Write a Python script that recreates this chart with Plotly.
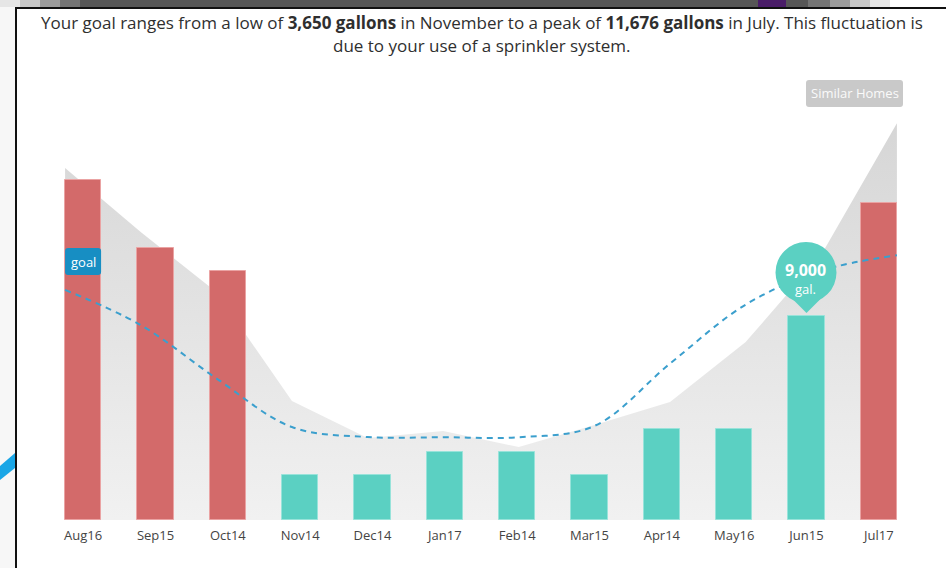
import numpy as np
import plotly.graph_objects as go

# ---- data (gallons per billing period) ----
months = ["Aug16", "Sep15", "Oct14", "Nov14", "Dec14", "Jan17",
          "Feb14", "Mar15", "Apr14", "May16", "Jun15", "Jul17"]
usage = [15000, 12000, 11000, 2000, 2000, 3000, 3000, 2000, 4000, 4000, 9000, 14000]
goal = [10150, 8600, 6250, 4100, 3660, 3650, 3650, 4150, 6900, 9500, 11000, 11676]
similar_homes = [15530, 12700, 10060, 5250, 3620, 3930, 3220, 4190, 5200, 7850, 11700, 17500]
highlight_idx = 10

# ---- layout geometry ----
FIG_W, FIG_H = 946, 568
L, R, T, B = 47, 31, 60, 48
PW, PH = FIG_W - L - R, FIG_H - T - B
PX_PER_1000 = 22.67
y_max = PH / PX_PER_1000 * 1000

RED, RED_EDGE = "#d36a6a", "#eaa3a3"
TEAL, TEAL_EDGE = "#5bd0c2", "#98e3da"
GOAL_BLUE = "#3b9fcd"
FONT = "Open Sans"


def px(xp):
    return (xp - L) / PW


def py(yp):
    return 1 - (yp - T) / PH


def rounded_rect(x0, y0, x1, y1, r):
    return (f"M {x0 + r},{y0} L {x1 - r},{y0} Q {x1},{y0} {x1},{y0 + r} "
            f"L {x1},{y1 - r} Q {x1},{y1} {x1 - r},{y1} L {x0 + r},{y1} "
            f"Q {x0},{y1} {x0},{y1 - r} L {x0},{y0 + r} Q {x0},{y0} {x0 + r},{y0} Z")


x_bars = np.arange(len(months))
x_span = np.linspace(-0.25, len(months) - 0.75, len(months))
over = [u > g for u, g in zip(usage, goal)]
x_range = [-0.5, len(months) - 0.5]

fig = go.Figure()

# similar homes band (base axes, drawn underneath)
fig.add_trace(go.Scatter(
    x=x_span, y=similar_homes, mode="lines", line=dict(width=0),
    fill="tozeroy",
    fillgradient=dict(type="vertical",
                      colorscale=[[0, "#f1f1f1"], [1, "#d6d6d6"]]),
    hoverinfo="skip", showlegend=False, xaxis="x", yaxis="y",
))

# monthly usage bars (overlay axes, drawn on top of the band)
fig.add_trace(go.Bar(
    x=x_bars, y=usage, width=0.5,
    marker=dict(color=[RED if o else TEAL for o in over],
                line=dict(color=[RED_EDGE if o else TEAL_EDGE for o in over], width=1)),
    showlegend=False, xaxis="x2", yaxis="y2",
))

# goal curve
fig.add_trace(go.Scatter(
    x=x_span, y=goal, mode="lines",
    line=dict(color=GOAL_BLUE, width=2, dash="6px,5px", shape="spline", smoothing=1.0),
    showlegend=False, xaxis="x2", yaxis="y2",
))

shapes = []
annotations = []

# speech-bubble callout on the highlighted month
hx, hy = x_bars[highlight_idx], usage[highlight_idx]
bubble = dict(xref="x", yref="y", xsizemode="pixel", ysizemode="pixel",
              xanchor=hx, yanchor=hy, fillcolor=TEAL, line=dict(width=0), layer="above")
shapes.append(dict(type="circle", x0=-31, x1=30, y0=13, y1=74, **bubble))
shapes.append(dict(type="path", path="M -21,24 L 0,3 L 21,24 Z", **bubble))
annotations.append(dict(x=hx, y=hy, xref="x", yref="y", yshift=46, xshift=-1,
                        xanchor="center", yanchor="middle",
                        text=f"<b>{hy:,}</b>", showarrow=False,
                        font=dict(family=FONT, size=16, color="white")))
annotations.append(dict(x=hx, y=hy, xref="x", yref="y", yshift=27, xshift=-1,
                        xanchor="center", yanchor="middle",
                        text="gal.", showarrow=False,
                        font=dict(family=FONT, size=13, color="white")))

# "goal" tag at the start of the goal curve
shapes.append(dict(type="path", xref="x", yref="y", xsizemode="pixel", ysizemode="pixel",
                   xanchor=x_span[0], yanchor=goal[0],
                   path=rounded_rect(0, 15, 36, 42, 3),
                   fillcolor="#178ec3", line=dict(width=0), layer="above"))
annotations.append(dict(x=x_span[0], y=goal[0], xref="x", yref="y",
                        xanchor="center", yanchor="middle", xshift=18, yshift=28,
                        text="goal", showarrow=False,
                        font=dict(family=FONT, size=13, color="white")))

# "Similar Homes" tag
shapes.append(dict(type="path", xref="paper", yref="paper", xsizemode="pixel", ysizemode="pixel",
                   xanchor=px(806), yanchor=py(107),
                   path=rounded_rect(0, 0, 97, 27, 3),
                   fillcolor="#c9c9c9", line=dict(width=0), layer="above"))
annotations.append(dict(x=px(854.5), y=py(93.5), xref="paper", yref="paper",
                        xanchor="center", yanchor="middle",
                        text="Similar Homes", showarrow=False,
                        font=dict(family=FONT, size=13, color="#fafafa")))

# headline
headline = dict(xref="paper", yref="paper", xanchor="center", yanchor="middle",
                showarrow=False, font=dict(family=FONT, size=17, color="#2f2f2f"))
annotations.append(dict(x=px(482), y=py(22),
                        text="Your goal ranges from a low of <b>3,650 gallons</b> in November "
                             "to a peak of <b>11,676 gallons</b> in July. This fluctuation is",
                        **headline))
annotations.append(dict(x=px(482), y=py(46),
                        text="due to your use of a sprinkler system.", **headline))

# window frame around the panel
strip = [(0, 20, "#e6e6e6"), (20, 40, "#c8c8c8"), (40, 60, "#9c9c9c"), (60, 80, "#747474"),
         (80, 808, "#565656"), (808, 830, "#747474"), (830, 850, "#9c9c9c"),
         (850, 870, "#c8c8c8"), (870, 890, "#e6e6e6")]
for a, b_, c in strip:
    shapes.append(dict(type="rect", xref="paper", yref="paper", x0=px(a), x1=px(b_),
                       y0=py(7), y1=py(0), fillcolor=c, line=dict(width=0), layer="above"))
shapes.append(dict(type="rect", xref="paper", yref="paper", x0=px(758), x1=px(786),
                   y0=py(7), y1=py(0), fillcolor="#4a1d68", line=dict(width=0), layer="above"))
shapes.append(dict(type="rect", xref="paper", yref="paper", x0=px(0), x1=px(15),
                   y0=py(568), y1=py(7), fillcolor="#f7f7f7", line=dict(width=0), layer="above"))
shapes.append(dict(type="path", xref="paper", yref="paper",
                   path=f"M {px(0)},{py(466)} L {px(15)},{py(453)} L {px(15)},{py(468)} "
                        f"L {px(0)},{py(480)} Z",
                   fillcolor="#1aa6e6", line=dict(width=0), layer="above"))
shapes.append(dict(type="line", xref="paper", yref="paper", x0=px(15), x1=px(946),
                   y0=py(8), y1=py(8), line=dict(color="#111111", width=2), layer="above"))
shapes.append(dict(type="line", xref="paper", yref="paper", x0=px(16), x1=px(16),
                   y0=py(8), y1=py(568), line=dict(color="#111111", width=2), layer="above"))

fig.update_layout(
    width=FIG_W, height=FIG_H,
    margin=dict(l=L, r=R, t=T, b=B),
    paper_bgcolor="white", plot_bgcolor="white",
    font=dict(family=FONT),
    bargap=0,
    shapes=shapes, annotations=annotations,
    xaxis=dict(range=x_range, tickmode="array",
               tickvals=list(x_bars), ticktext=months,
               showgrid=False, zeroline=False, showline=False, ticks="",
               ticklabelstandoff=6,
               tickfont=dict(family=FONT, size=13, color="#444444")),
    yaxis=dict(range=[0, y_max], visible=False, showgrid=False, zeroline=False),
    xaxis2=dict(range=x_range, overlaying="x", visible=False,
                showgrid=False, zeroline=False),
    yaxis2=dict(range=[0, y_max], overlaying="y", visible=False,
                showgrid=False, zeroline=False),
)

fig.write_html("out.html")
